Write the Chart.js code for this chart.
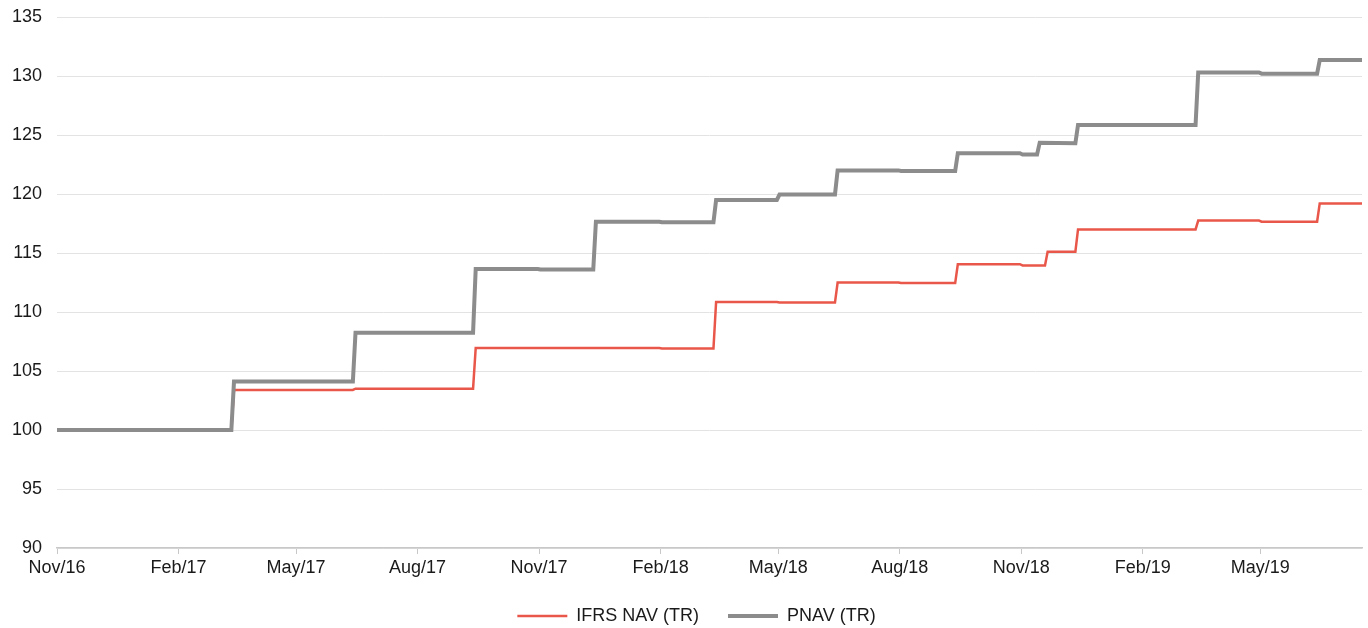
<!DOCTYPE html>
<html>
<head>
<meta charset="utf-8">
<script src="https://cdn.jsdelivr.net/npm/chart.js@4/dist/chart.umd.min.js"></script>
<style>
  html, body { margin: 0; padding: 0; background: #ffffff; }
  #wrap { width: 1368px; height: 628px; }
</style>
</head>
<body>
<div id="wrap"><canvas id="c" width="1368" height="628"></canvas></div>
<script>
// ---- data ----
const seriesNames = ['IFRS NAV (TR)', 'PNAV (TR)'];

const ifrsDates = ['2016-11-01','2017-03-13','2017-03-15','2017-06-13','2017-06-15','2017-09-12','2017-09-14',
  '2018-01-31','2018-02-02','2018-03-13','2018-03-15','2018-04-30','2018-05-02','2018-06-13','2018-06-15',
  '2018-07-31','2018-08-02','2018-09-12','2018-09-14','2018-10-31','2018-11-02','2018-11-19','2018-11-21',
  '2018-12-12','2018-12-14','2019-03-13','2019-03-15','2019-04-30','2019-05-02','2019-06-13','2019-06-15','2019-07-17'];
const ifrsValues = [100,100,103.4,103.4,103.5,103.5,106.95,
  106.95,106.9,106.9,110.85,110.85,110.8,110.8,112.5,
  112.5,112.45,112.45,114.05,114.05,113.95,113.95,115.1,
  115.1,117.0,117.0,117.75,117.75,117.65,117.65,119.2,119.2];

const pnavDates = ['2016-11-01','2017-03-13','2017-03-15','2017-06-13','2017-06-15','2017-09-12','2017-09-14',
  '2017-10-31','2017-11-02','2017-12-12','2017-12-14','2018-01-31','2018-02-02','2018-03-13','2018-03-15',
  '2018-04-30','2018-05-02','2018-06-13','2018-06-15','2018-07-31','2018-08-02','2018-09-12','2018-09-14',
  '2018-10-31','2018-11-02','2018-11-13','2018-11-15','2018-12-12','2018-12-14','2019-03-13','2019-03-15',
  '2019-04-30','2019-05-02','2019-06-13','2019-06-15','2019-07-17'];
const pnavValues = [100,100,104.1,104.1,108.25,108.25,113.65,
  113.65,113.6,113.6,117.65,117.65,117.6,117.6,119.5,
  119.5,119.95,119.95,122.0,122.0,121.95,121.95,123.45,
  123.45,123.35,123.35,124.35,124.3,125.85,125.85,130.3,
  130.3,130.2,130.2,131.35,131.35];

const tickDates  = ['2016-11-01','2017-02-01','2017-05-01','2017-08-01','2017-11-01','2018-02-01',
  '2018-05-01','2018-08-01','2018-11-01','2019-02-01','2019-05-01'];
const tickLabels = ['Nov/16','Feb/17','May/17','Aug/17','Nov/17','Feb/18','May/18','Aug/18','Nov/18','Feb/19','May/19'];
const axisStart = '2016-11-01';
const axisEnd = '2019-07-17';

// ---- helpers ----
function dayIndex(s) {
  const p = s.split('-').map(Number);
  const b = axisStart.split('-').map(Number);
  return Math.round((Date.UTC(p[0], p[1]-1, p[2]) - Date.UTC(b[0], b[1]-1, b[2])) / 86400000);
}
function toPoints(dates, values) { return dates.map((d, i) => ({ x: dayIndex(d), y: values[i] })); }
const tickValues = tickDates.map(dayIndex);

const FONT = "'Liberation Sans', Arial, sans-serif";
const TXT = '#1a1a1a';

// small layout nudge: the reference legend sits a little left of the plot centre
const legendShift = {
  id: 'legendShift',
  afterLayout(chart) {
    const lg = chart.legend;
    if (lg) { lg.left -= 13; lg.right -= 13; }
  }
};

new Chart(document.getElementById('c'), {
  type: 'line',
  data: {
    datasets: [
      { label: seriesNames[0], data: toPoints(ifrsDates, ifrsValues), borderColor: '#E9574A', backgroundColor: '#E9574A',
        borderWidth: 2.5, pointRadius: 0, tension: 0, order: 1, borderJoinStyle: 'miter' },
      { label: seriesNames[1], data: toPoints(pnavDates, pnavValues), borderColor: '#8C8C8C', backgroundColor: '#8C8C8C',
        borderWidth: 4, pointRadius: 0, tension: 0, order: 0, borderJoinStyle: 'miter' }
    ]
  },
  plugins: [legendShift],
  options: {
    responsive: false,
    animation: false,
    devicePixelRatio: 1,
    layout: { padding: { left: 0, right: 6, top: 17, bottom: -7 } },
    plugins: {
      tooltip: { enabled: false },
      legend: {
        position: 'bottom',
        fullSize: false,
        labels: {
          usePointStyle: true,
          pointStyle: 'line',
          pointStyleWidth: 50,
          boxHeight: 18,
          padding: 29,
          color: TXT,
          font: { family: FONT, size: 18 },
          sort: (a, b) => a.datasetIndex - b.datasetIndex
        }
      }
    },
    scales: {
      x: {
        type: 'linear',
        min: 0,
        max: dayIndex(axisEnd),
        afterBuildTicks: (scale) => { scale.ticks = tickValues.map(v => ({ value: v })); },
        afterFit: (scale) => { scale.height = 30; },
        ticks: {
          autoSkip: false, maxRotation: 0, padding: 3,
          color: TXT, font: { family: FONT, size: 18 },
          callback: (v) => { const i = tickValues.indexOf(v); return i >= 0 ? tickLabels[i] : ''; }
        },
        grid: { drawOnChartArea: false, drawTicks: true, tickLength: 6, color: '#C8C8C8', lineWidth: 1 },
        border: { display: true, color: '#C8C8C8', width: 1.5 }
      },
      y: {
        min: 90, max: 135,
        afterFit: (scale) => { scale.width = 57; scale.paddingTop = 0; scale.paddingBottom = 0; },
        ticks: { stepSize: 5, padding: 15, color: TXT, font: { family: FONT, size: 18 } },
        grid: { color: '#E3E3E3', lineWidth: 1, drawTicks: false },
        border: { display: false }
      }
    }
  }
});
</script>
</body>
</html>
